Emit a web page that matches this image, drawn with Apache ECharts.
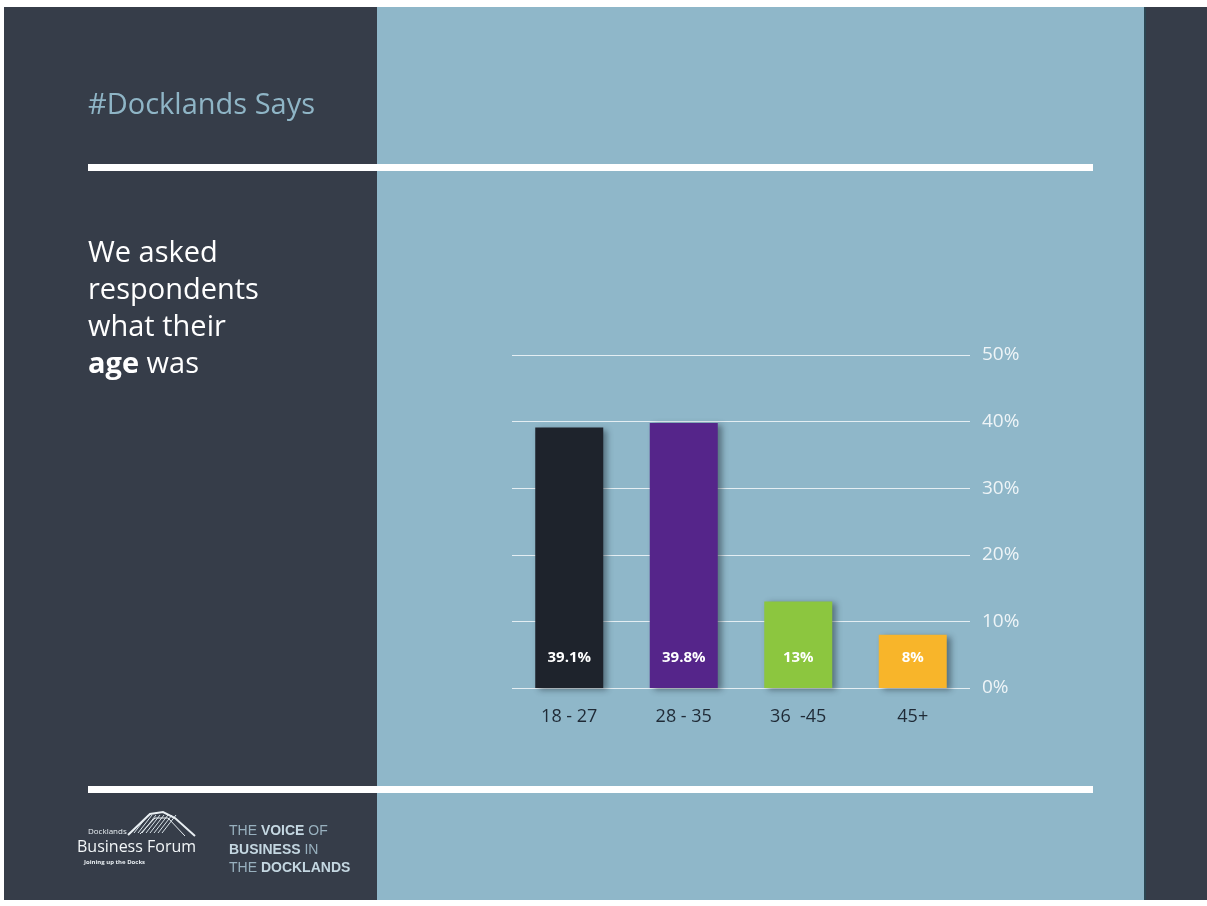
<!DOCTYPE html>
<html>
<head>
<meta charset="utf-8">
<script src="https://cdn.jsdelivr.net/npm/echarts@6/dist/echarts.min.js"></script>
<style>
html,body{margin:0;padding:0;background:#fff;}
#c{width:1207px;height:906px;}
</style>
</head>
<body>
<div id="c"></div>
<script>
const categories = ['18 - 27', '28 - 35', '36  -45', '45+'];
const values = [39.1, 39.8, 13, 8];
const valueLabels = ['39.1%', '39.8%', '13%', '8%'];
const barColors = ['#1e232c', '#55258a', '#8cc63f', '#f8b52a'];
const yTicks = [0, 10, 20, 30, 40, 50];

const chart = echarts.init(document.getElementById('c'), null, {renderer: 'canvas'});
const FONT = "'Open Sans', 'Noto Sans', sans-serif";
const SANS = "'Liberation Sans', Arial, sans-serif";
const DARK = '#363d49';
const LIGHT = '#8fb7c9';

const option = {
  backgroundColor: '#ffffff',
  animation: false,
  grid: {left: 512, right: 237, top: 355, bottom: 218, containLabel: false},
  xAxis: {
    type: 'category',
    data: categories,
    axisLine: {show: false},
    axisTick: {show: false},
    axisLabel: {color: '#1f2a36', fontSize: 18, fontFamily: FONT, margin: 20}
  },
  yAxis: {
    type: 'value',
    position: 'right',
    min: 0, max: 50, interval: 10,
    axisLine: {show: false},
    axisTick: {show: false},
    splitLine: {lineStyle: {color: '#e4eef3', width: 1}},
    axisLabel: {color: '#eef4f7', fontSize: 19, fontFamily: FONT, margin: 12,
      formatter: v => yTicks.includes(v) ? v + '%' : ''}
  },
  series: [{
    type: 'bar',
    barWidth: 68,
    z: 3,
    data: values.map((v, i) => ({
      value: v,
      itemStyle: {color: barColors[i]},
      label: {formatter: valueLabels[i]}
    })),
    itemStyle: {
      shadowColor: 'rgba(20,30,40,0.45)',
      shadowBlur: 6,
      shadowOffsetX: 4,
      shadowOffsetY: 2
    },
    label: {
      show: true,
      position: 'insideBottom',
      distance: 23,
      color: '#ffffff',
      fontSize: 15,
      fontWeight: 'bold',
      fontFamily: FONT
    }
  }],
  graphic: [
    {type: 'rect', z: -10, shape: {x: 4, y: 7, width: 373, height: 893}, style: {fill: DARK}, silent: true},
    {type: 'rect', z: -10, shape: {x: 377, y: 7, width: 768, height: 893}, style: {fill: LIGHT}, silent: true},
    {type: 'rect', z: -10, shape: {x: 1145, y: 7, width: 62, height: 893}, style: {fill: DARK}, silent: true},
    {type: 'rect', z: -9, shape: {x: 1144, y: 7, width: 2, height: 893}, style: {fill: '#2c4652'}, silent: true},
    {type: 'rect', z: 10, shape: {x: 88, y: 164, width: 1005, height: 7}, style: {fill: '#ffffff'}, silent: true},
    {type: 'rect', z: 10, shape: {x: 88, y: 786, width: 1005, height: 7}, style: {fill: '#ffffff'}, silent: true},
    {type: 'text', z: 10, x: 88, y: 106, style: {text: '#Docklands Says', fill: '#8fb5c6', font: '29px ' + FONT, verticalAlign: 'middle'}},
    {type: 'text', z: 10, x: 88, y: 235, style: {
      text: 'We asked\nrespondents\nwhat their\n{b|age} was',
      fill: '#ffffff', font: '29px ' + FONT, lineHeight: 37, verticalAlign: 'top',
      rich: {b: {fontWeight: 'bold', fontSize: 29, fontFamily: FONT, fill: '#ffffff', lineHeight: 37}}
    }},
    // logo
    {type: 'polyline', z: 10, shape: {points: [[128, 835], [150, 814], [163, 812], [175, 818], [195, 836]]}, style: {stroke: '#e8eef2', lineWidth: 2, fill: null}},
    {type: 'polyline', z: 10, shape: {points: [[140, 834], [155, 818], [168, 818], [185, 836]]}, style: {stroke: '#e8eef2', lineWidth: 1, fill: null}},
    {type: 'group', z: 10, children: [0,1,2,3,4,5,6,7].map(i => ({
      type: 'line', shape: {x1: 134 + i * 4, y1: 833, x2: 148 + i * 4, y2: 815}, style: {stroke: '#d8e2e8', lineWidth: 1}
    }))},
    {type: 'text', z: 10, x: 88, y: 832, style: {text: 'Docklands', fill: '#e8eef2', font: '8px ' + FONT, verticalAlign: 'middle'}},
    {type: 'text', z: 10, x: 77, y: 847, style: {text: 'Business Forum', fill: '#f2f6f8', font: '16px ' + FONT, verticalAlign: 'middle', letterSpacing: -0.6}},
    {type: 'text', z: 10, x: 84, y: 862, style: {text: 'Joining up the Docks', fill: '#e8eef2', font: 'bold 6px ' + FONT, verticalAlign: 'middle'}},
    {type: 'text', z: 10, x: 229, y: 831, style: {text: 'THE {b|VOICE} OF', fill: '#98b0be', font: '14px ' + SANS, verticalAlign: 'middle',
      rich: {b: {fontWeight: 'bold', fill: '#c4d7e1', fontSize: 14, fontFamily: SANS}}}},
    {type: 'text', z: 10, x: 229, y: 850, style: {text: '{b|BUSINESS} IN', fill: '#98b0be', font: '14px ' + SANS, verticalAlign: 'middle',
      rich: {b: {fontWeight: 'bold', fill: '#c4d7e1', fontSize: 14, fontFamily: SANS}}}},
    {type: 'text', z: 10, x: 229, y: 868, style: {text: 'THE {b|DOCKLANDS}', fill: '#98b0be', font: '14px ' + SANS, verticalAlign: 'middle',
      rich: {b: {fontWeight: 'bold', fill: '#c4d7e1', fontSize: 14, fontFamily: SANS}}}}
  ]
};
chart.setOption(option);
</script>
</body>
</html>
